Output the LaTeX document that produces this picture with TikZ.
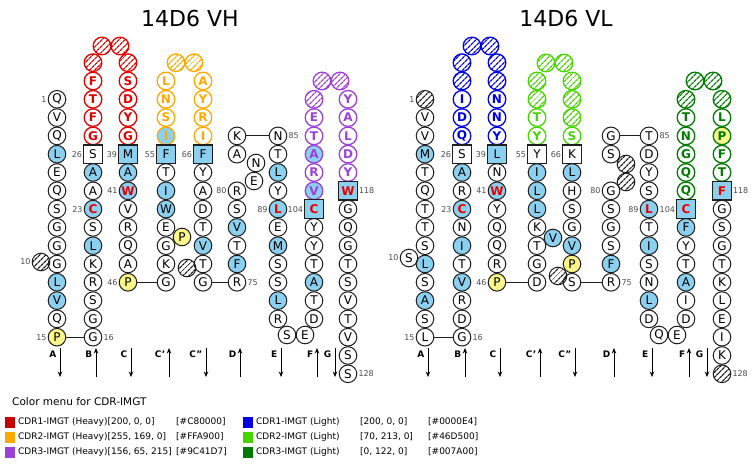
\documentclass[tikz,border=0pt]{standalone}
\usepackage{fontspec}
\setmainfont{DejaVu Sans}
\usetikzlibrary{patterns.meta,arrows.meta}
\definecolor{cblue}{RGB}{140,208,240}
\definecolor{cyel}{RGB}{250,246,140}
\definecolor{cred}{RGB}{232,0,0}
\definecolor{kA}{HTML}{E00000}
\definecolor{kB}{HTML}{FFA900}
\definecolor{kC}{HTML}{9C41D7}
\definecolor{kD}{HTML}{0000E4}
\definecolor{kE}{HTML}{46D500}
\definecolor{kF}{HTML}{007A00}
\definecolor{gA}{HTML}{C80000}
\definecolor{ink}{RGB}{30,30,30}
\newcommand\pcol[4]{\foreach \st/\lt [count=\i from #3] in {#4}{\node[\st] (#1\i) at (#2,{99.3+18.3*(\i-3)}) {\lt};}}
\begin{document}
\begin{tikzpicture}[x=1pt,y=-1pt,
 base/.style={circle, draw=ink, line width=1pt, minimum size=17.6pt, inner sep=0pt, font=\fontsize{12}{12}\selectfont, text=black},
 pl/.style={base},
 bf/.style={base, fill=cblue},
 yf/.style={base, fill=cyel},
 ht/.style={base, pattern={Lines[angle=45,distance=4pt,line width=1.3pt]}, pattern color=ink},
 rb/.style={base, fill=cblue, text=cred, font=\fontsize{12}{12}\selectfont\bfseries},
 sw/.style={base, rectangle, minimum size=18.5pt, line width=1.2pt},
 sb/.style={sw, fill=cblue},
 rsb/.style={sb, text=cred, font=\fontsize{12}{12}\selectfont\bfseries},
 cdr/.style={base, draw=#1, text=#1, line width=1.3pt, font=\fontsize{12}{12}\selectfont\bfseries},
 cdrh/.style={base, draw=#1, line width=1.3pt, pattern={Lines[angle=45,distance=4pt,line width=1.3pt]}, pattern color=#1},
 c1H/.style={cdr=kA}, c1Hh/.style={cdrh=kA},
 c2H/.style={cdr=kB}, c2Hh/.style={cdrh=kB}, c2Hb/.style={cdr=kB, fill=cblue},
 c3H/.style={cdr=kC}, c3Hh/.style={cdrh=kC}, c3Hb/.style={cdr=kC, fill=cblue},
 c1L/.style={cdr=kD}, c1Lh/.style={cdrh=kD},
 c2L/.style={cdr=kE}, c2Lh/.style={cdrh=kE},
 c3L/.style={cdr=kF}, c3Lh/.style={cdrh=kF}, c3Ly/.style={cdr=kF, fill=cyel},
 numl/.style={font=\fontsize{8}{9}\selectfont, text=black!70, inner sep=1pt},
 strl/.style={font=\fontsize{9}{10}\selectfont\bfseries, inner sep=0pt},
 arr/.style={line width=1pt, -{Stealth[length=5.5pt,width=4.5pt]}},
 conn/.style={line width=1pt, draw=ink},
 title/.style={font=\fontsize{22}{24}\selectfont},
 legt/.style={font=\fontsize{9}{10}\selectfont, anchor=west, inner sep=0pt},
 legsq/.style={rectangle, minimum width=10pt, minimum height=11pt, inner sep=0pt}
]
\useasboundingbox (0,0) rectangle (753,465);
\node[title] (tvh) at (190,18) {14D6 VH};
\node[title] (tvl) at (566,18) {14D6 VL};
% ================= VH =================
\pcol{hA}{57}{3}{pl/Q,pl/V,pl/Q,bf/L,pl/E,pl/Q,pl/S,pl/G,pl/G,pl/G,bf/L,bf/V,pl/Q,yf/P}
\pcol{hB}{93}{1}{c1Hh/{},c1H/F,c1H/T,c1H/F,c1H/G,sw/S,bf/A,pl/A,rb/C,pl/S,bf/L,pl/K,pl/R,pl/S,pl/G,pl/G}
\pcol{hC}{128}{1}{c1Hh/{},c1H/S,c1H/D,c1H/Y,c1H/G,sb/M,bf/A,rb/W,pl/V,pl/R,pl/Q,pl/A,yf/P}
\pcol{hCp}{166}{2}{c2H/L,c2H/N,c2H/S,c2Hb/I,sb/F,pl/T,bf/I,bf/W,pl/E,pl/G,pl/K,pl/G}
\pcol{hCpp}{203}{2}{c2H/A,c2H/Y,c2H/R,c2H/I,sb/F,pl/Y,pl/A,pl/D,pl/T,bf/V,pl/T,pl/G}
\pcol{hD}{237}{5}{pl/K,pl/A}
\pcol{hDb}{237}{8}{pl/R,pl/S,bf/V,pl/T,bf/F,pl/R}
\pcol{hE}{278}{5}{pl/N,pl/T,bf/L,pl/Y,rb/L,pl/E,bf/M,pl/S,pl/S,bf/L,pl/R}
\pcol{hF}{314}{3}{c3Hh/{},c3H/E,c3H/T,c3Hb/A,c3H/R,c3Hb/V,rsb/C,pl/Y,pl/Y,pl/T,bf/A,pl/T,pl/D}
\pcol{hG}{348}{3}{c3H/Y,c3H/A,c3H/L,c3H/D,c3H/Y,rsb/W,pl/G,pl/Q,pl/G,pl/T,pl/S,pl/V,pl/T,pl/V,pl/S,pl/S}
\node[c1Hh] (hT1) at (102,46) {};
\node[c1Hh] (hT2) at (120,46) {};
\node[c2Hh] (hT3) at (176,62.7) {};
\node[c2Hh] (hT4) at (194,62.7) {};
\node[c3Hh] (hT5) at (322,81) {};
\node[c3Hh] (hT6) at (340,81) {};
\node[ht] (h10) at (41,262) {};
\node[yf] (hP) at (182,237) {P};
\node[ht] (hX) at (187,268) {};
\node[pl] (hN) at (256,163) {N};
\node[pl] (hE2) at (254,181) {E};
\node[pl] (hS) at (287,335) {S};
\node[pl] (hE3) at (305,335) {E};
\draw[conn] (hA16) -- (hB16);
\draw[conn] (hC13) -- (hCp13);
\draw[conn] (hCpp13) -- (hDb13);
\draw[conn] (hD5) -- (hE5);
\node[numl,anchor=east] (hn1) at (hA3.west) {1};
\node[numl,anchor=east] (hn10) at (h10.west) {10};
\node[numl,anchor=east] (hn15) at (hA16.west) {15};
\node[numl,anchor=west] (hn16) at (hB16.east) {16};
\node[numl,anchor=east] (hn23) at (hB9.west) {23};
\node[numl,anchor=east] (hn26) at (hB6.west) {26};
\node[numl,anchor=east] (hn39) at (hC6.west) {39};
\node[numl,anchor=east] (hn41) at (hC8.west) {41};
\node[numl,anchor=east] (hn46) at (hC13.west) {46};
\node[numl,anchor=east] (hn55) at (hCp6.west) {55};
\node[numl,anchor=east] (hn66) at (hCpp6.west) {66};
\node[numl,anchor=east] (hn80) at (hDb8.west) {80};
\node[numl,anchor=west] (hn85) at (hE5.east) {85};
\node[numl,anchor=east] (hn89) at (hE9.west) {89};
\node[numl,anchor=east] (hn104) at (hF9.west) {104};
\node[numl,anchor=west] (hn118) at (hG8.east) {118};
\node[numl,anchor=west] (hn75) at (hDb13.east) {75};
\node[numl,anchor=west] (hn128) at (hG18.east) {128};
% ================= VL =================
\pcol{lA}{425}{3}{ht/{},pl/V,pl/V,bf/M,pl/T,pl/Q,pl/T,pl/T,pl/S,bf/L,pl/S,bf/A,pl/S,pl/L}
\pcol{lB}{462}{1}{c1Lh/{},c1Lh/{},c1L/I,c1L/D,c1L/Q,sw/S,bf/A,pl/R,rb/C,pl/N,bf/I,pl/T,bf/V,pl/R,pl/D,pl/G}
\pcol{lC}{497}{1}{c1Lh/{},c1Lh/{},c1L/N,c1L/N,c1L/Y,sb/L,pl/N,rb/W,pl/Y,pl/Q,pl/Q,pl/R,yf/P}
\pcol{lCp}{537}{2}{c2Lh/{},c2Lh/{},c2L/T,c2L/Y,sw/Y,bf/I,bf/L,bf/L,pl/K,pl/T,pl/G,pl/D}
\pcol{lCpp}{572}{2}{c2Lh/{},c2Lh/{},c2Lh/{},c2L/S,sw/K,bf/L,pl/H,pl/S,pl/G,bf/V,yf/P,pl/S}
\pcol{lD}{611}{5}{pl/G,pl/S}
\pcol{lDb}{611}{8}{pl/G,pl/S,pl/G,pl/S,bf/F,pl/R}
\pcol{lE}{649}{5}{pl/T,pl/D,pl/Y,pl/S,rb/L,pl/T,bf/I,pl/S,pl/N,bf/L,pl/D}
\pcol{lF}{686}{3}{c3Lh/{},c3L/T,c3L/N,c3L/G,c3L/Q,c3L/Q,rsb/C,bf/F,pl/Y,pl/T,bf/A,pl/I,pl/D}
\pcol{lG}{722}{3}{c3Lh/{},c3L/L,c3Ly/P,c3L/F,c3L/T,rsb/F,pl/G,pl/S,pl/G,pl/T,pl/K,pl/L,pl/E,pl/I,pl/K,ht/{}}
\node[c1Lh] (lT1) at (472,46) {};
\node[c1Lh] (lT2) at (490,46) {};
\node[c2Lh] (lT3) at (546,63) {};
\node[c2Lh] (lT4) at (564,63) {};
\node[c3Lh] (lT5) at (695,81) {};
\node[c3Lh] (lT6) at (713,81) {};
\node[pl] (l10) at (409,258) {S};
\node[bf] (lV) at (553,238) {V};
\node[ht] (lX) at (558,276) {};
\node[ht] (lH1) at (626,164) {};
\node[ht] (lH2) at (626,182) {};
\node[pl] (lQ) at (659,335) {Q};
\node[pl] (lE3) at (677,335) {E};
\draw[conn] (lA16) -- (lB16);
\draw[conn] (lC13) -- (lCp13);
\draw[conn] (lCpp13) -- (lDb13);
\draw[conn] (lD5) -- (lE5);
\node[numl,anchor=east] (ln1) at (lA3.west) {1};
\node[numl,anchor=east] (ln10) at (l10.west) {10};
\node[numl,anchor=east] (ln15) at (lA16.west) {15};
\node[numl,anchor=west] (ln16) at (lB16.east) {16};
\node[numl,anchor=east] (ln23) at (lB9.west) {23};
\node[numl,anchor=east] (ln26) at (lB6.west) {26};
\node[numl,anchor=east] (ln39) at (lC6.west) {39};
\node[numl,anchor=east] (ln41) at (lC8.west) {41};
\node[numl,anchor=east] (ln46) at (lC13.west) {46};
\node[numl,anchor=east] (ln55) at (lCp6.west) {55};
\node[numl,anchor=east] (ln66) at (lCpp6.west) {66};
\node[numl,anchor=east] (ln80) at (lDb8.west) {80};
\node[numl,anchor=west] (ln85) at (lE5.east) {85};
\node[numl,anchor=east] (ln89) at (lE9.west) {89};
\node[numl,anchor=east] (ln104) at (lF9.west) {104};
\node[numl,anchor=west] (ln118) at (lG8.east) {118};
\node[numl,anchor=west] (ln75) at (lDb13.east) {75};
\node[numl,anchor=west] (ln128) at (lG18.east) {128};
% ================= strand labels =================
\foreach \nm/\x/\lab in {hsA/60/A, hsC/131/C, hsCpp/206/C'', hsE/281/E, hsG/335/G, lsA/428/A, lsC/500/C, lsCpp/575/C'', lsE/652/E, lsG/707/G}{
  \coordinate (\nm a) at (\x,348);
  \coordinate (\nm b) at (\x,377);
  \node[strl,anchor=east] (\nm t) at (\x-3.5,354) {\lab};
  \draw[arr] (\nm a) -- (\nm b);
}
\foreach \nm/\x/\lab in {hsB/96/B, hsCp/169/C', hsD/240/D, hsF/317/F, lsB/465/B, lsCp/540/C', lsD/614/D, lsF/689/F}{
  \coordinate (\nm a) at (\x,348);
  \coordinate (\nm b) at (\x,377);
  \node[strl,anchor=east] (\nm t) at (\x-3.5,354) {\lab};
  \draw[arr] (\nm b) -- (\nm a);
}
% ================= legend =================
\node[font=\fontsize{10.5}{12}\selectfont, anchor=west, inner sep=0pt] (lgT) at (12,402) {Color menu for CDR-IMGT};
\node[legsq, fill=gA] (q1) at (10,422) {};
\node[legsq, fill=kB] (q2) at (10,437) {};
\node[legsq, fill=kC] (q3) at (10,452) {};
\node[legsq, fill=kD] (q4) at (248,422) {};
\node[legsq, fill=kE] (q5) at (248,437) {};
\node[legsq, fill=kF] (q6) at (248,452) {};
\node[legt] (t1) at (18,422) {CDR1-IMGT (Heavy)[200, 0, 0]};
\node[legt] (t2) at (18,437) {CDR2-IMGT (Heavy)[255, 169, 0]};
\node[legt] (t3) at (18,452) {CDR3-IMGT (Heavy)[156, 65, 215]};
\node[legt] (h1) at (176,422) {[\#C80000]};
\node[legt] (h2) at (176,437) {[\#FFA900]};
\node[legt] (h3) at (176,452) {[\#9C41D7]};
\node[legt] (t4) at (256,422) {CDR1-IMGT (Light)};
\node[legt] (t5) at (256,437) {CDR2-IMGT (Light)};
\node[legt] (t6) at (256,452) {CDR3-IMGT (Light)};
\node[legt] (v4) at (360,422) {[200, 0, 0]};
\node[legt] (v5) at (360,437) {[70, 213, 0]};
\node[legt] (v6) at (360,452) {[0, 122, 0]};
\node[legt] (h4) at (428,422) {[\#0000E4]};
\node[legt] (h5) at (428,437) {[\#46D500]};
\node[legt] (h6) at (428,452) {[\#007A00]};
\end{tikzpicture}
\end{document}
